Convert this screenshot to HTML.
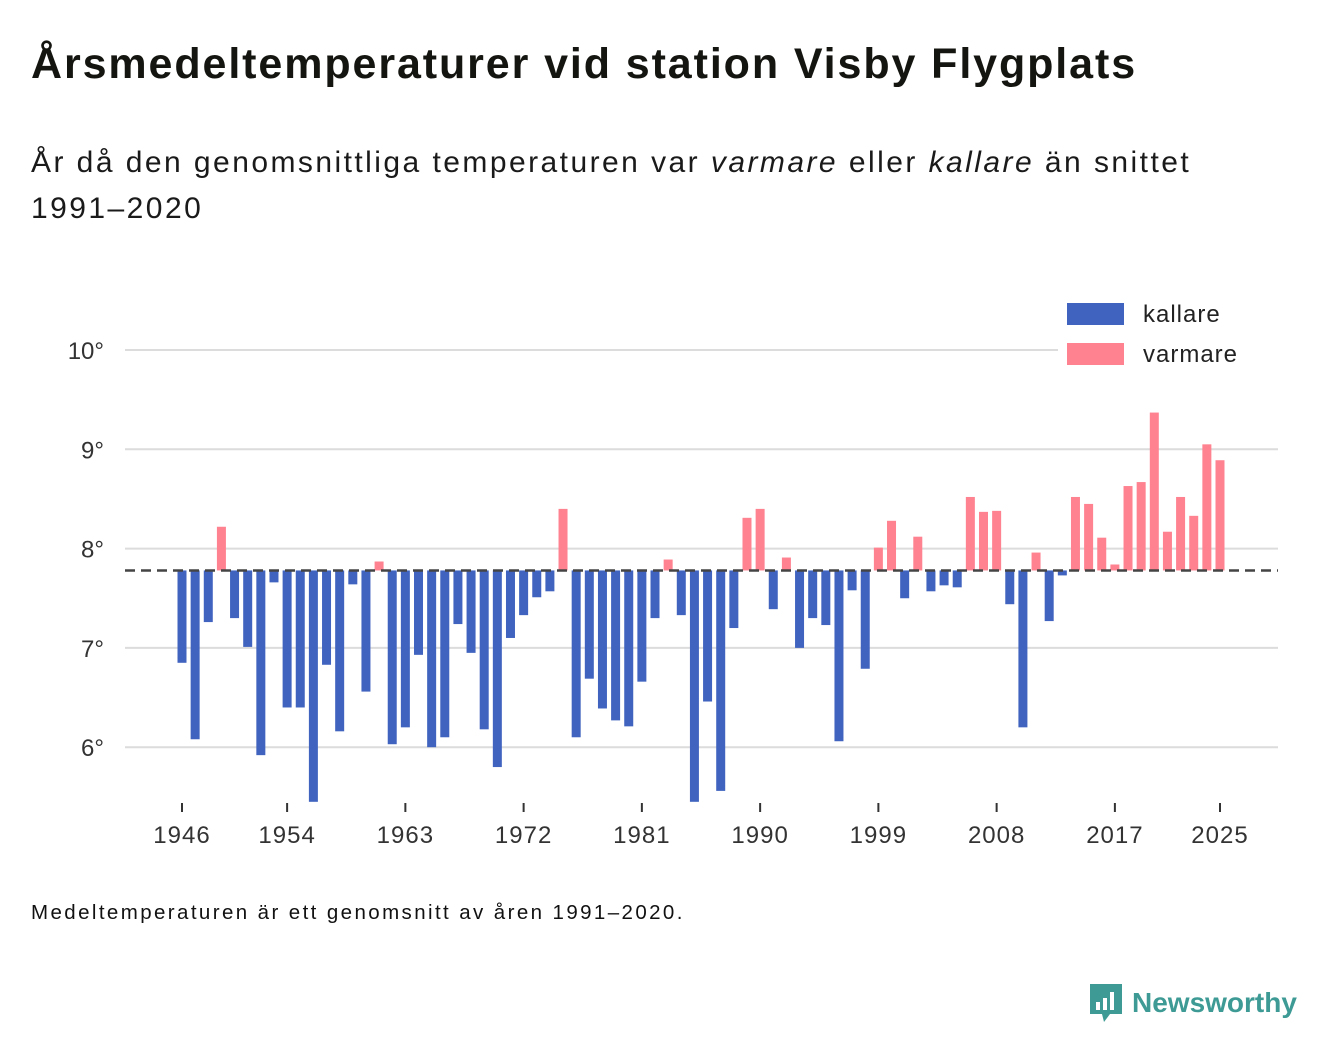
<!DOCTYPE html>
<html><head><meta charset="utf-8">
<style>
body{margin:0;background:#fff;width:1340px;height:1056px;overflow:hidden;font-family:"Liberation Sans","DejaVu Sans",sans-serif;color:#111;}
h1{position:absolute;left:31px;top:40px;margin:0;font-size:43px;font-weight:bold;letter-spacing:1.9px;color:#141410}
.sub{position:absolute;left:31px;top:140px;font-size:30px;line-height:46px;width:1220px;color:#1a1a1a;letter-spacing:2.45px}
.foot{position:absolute;left:31px;top:901px;font-size:20.5px;letter-spacing:2.4px}
.logo{position:absolute;left:1088px;top:982px;display:flex;align-items:center;color:#3d9a94;font-weight:bold;font-size:28px;}
svg{position:absolute;left:0;top:0}
</style></head><body>
<h1>Årsmedeltemperaturer vid station Visby Flygplats</h1>
<div class="sub">År då den genomsnittliga temperaturen var <i>varmare</i> eller <i>kallare</i> än snittet 1991–2020</div>
<div class="foot">Medeltemperaturen är ett genomsnitt av åren 1991–2020.</div>
<div class="logo">
<svg style="position:static;margin-right:8px" width="36" height="42" viewBox="0 0 36 42"><path d="M2 2h32v30H22l-6 8-2-8H2z" fill="#3d9a94"/><rect x="8" y="20" width="4" height="8" fill="#fff"/><rect x="15" y="16" width="4" height="12" fill="#fff"/><rect x="22" y="10" width="4" height="18" fill="#fff"/></svg>Newsworthy</div>
<svg id="chart" width="1340" height="1056"></svg>
<script>
const years=[];for(let y=1946;y<=2025;y++)years.push(y);
const temps=[6.85,6.08,7.26,8.22,7.30,7.01,5.92,7.66,6.40,6.40,5.45,6.83,6.16,7.64,6.56,7.87,6.03,6.20,6.93,6.00,6.10,7.24,6.95,6.18,5.80,7.10,7.33,7.51,7.57,8.40,6.10,6.69,6.39,6.27,6.21,6.66,7.30,7.89,7.33,5.45,6.46,5.56,7.20,8.31,8.40,7.39,7.91,7.00,7.30,7.23,6.06,7.58,6.79,8.01,8.28,7.50,8.12,7.57,7.63,7.61,8.52,8.37,8.38,7.44,6.20,7.96,7.27,7.73,8.52,8.45,8.11,7.84,8.63,8.67,9.37,8.17,8.52,8.33,9.05,8.89];
const baseline=7.78;
const yTicks=[6,7,8,9,10];
const xTicks=[1946,1954,1963,1972,1981,1990,1999,2008,2017,2025];
const NS='http://www.w3.org/2000/svg';
const svg=document.getElementById('chart');
const yS=v=>350+(10-v)*99.3;
const xS=yr=>182+(yr-1946)*(1220-182)/79;
function mk(t,a){const e=document.createElementNS(NS,t);for(const k in a)e.setAttribute(k,a[k]);svg.appendChild(e);return e;}
yTicks.forEach(v=>{
 const l=mk('line',{x1:125,x2:1278,y1:yS(v),y2:yS(v),stroke:'#dcdcdc','stroke-width':2});
 
 
 const t=mk('text',{x:104,y:yS(v)+9,'text-anchor':'end','font-size':24,fill:'#333','font-family':'Liberation Sans, sans-serif'});
 t.textContent=v+'°';
 
 
});
years.forEach((yr,i)=>{
 const v=temps[i];const warm=v>baseline;
 const y0=yS(Math.max(v,baseline)),y1=yS(Math.min(v,baseline));
 const r=mk('rect',{x:xS(yr)-4.5,y:y0,width:9,height:Math.max(1,y1-y0),fill:warm?'#ff8290':'#4063bf'});
 
 
});
const bl=mk('line',{x1:125,x2:1278,y1:yS(baseline),y2:yS(baseline),stroke:'#444','stroke-width':2.5,'stroke-dasharray':'10,6'});


xTicks.forEach(yr=>{
 const l=mk('line',{x1:xS(yr),x2:xS(yr),y1:803,y2:812,stroke:'#333','stroke-width':2});
 
 
 const t=mk('text',{x:xS(yr),y:843,'text-anchor':'middle','font-size':24,fill:'#333','font-family':'Liberation Sans, sans-serif','letter-spacing':1});
 t.textContent=yr;
 
 
});
const leg=[['kallare','#4063bf',303],['varmare','#ff8290',343]];
leg.forEach(([n,c,y])=>{
 const bg=mk('rect',{x:1058,y:y-4,width:220,height:32,fill:'#fff'});
 
 
 const r=mk('rect',{x:1067,y:y,width:57,height:22,fill:c});
 
 
 const t=mk('text',{x:1143,y:y+19,'font-size':24,fill:'#222','font-family':'Liberation Sans, sans-serif','letter-spacing':1});
 t.textContent=n;
 
 
});
</script>
</body></html>
